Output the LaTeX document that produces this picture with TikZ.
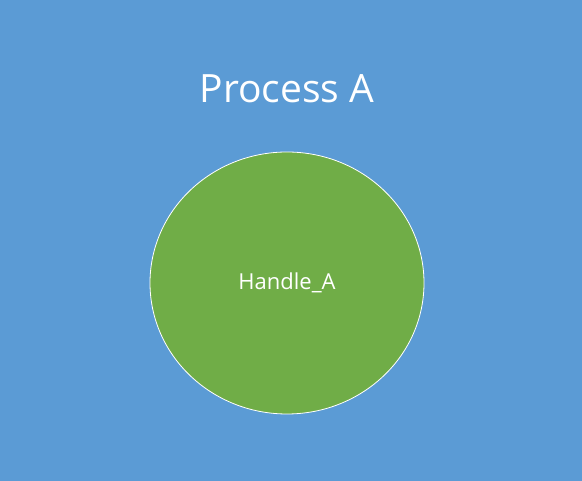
\documentclass[tikz,border=0pt]{standalone}
\usepackage{fontspec}
\setmainfont{Open Sans}
\usetikzlibrary{positioning, shapes.geometric}
\definecolor{procblue}{HTML}{5B9BD5}
\definecolor{handlegreen}{HTML}{70AD47}
\tikzset{
    title/.style={text=white, font=\fontsize{39}{46}\selectfont},
    handle/.style={ellipse, draw=white, line width=0.8pt, fill=handlegreen,
        minimum width=274pt, minimum height=262pt, inner sep=0pt,
        text=white, font=\fontsize{22}{26}\selectfont}
}

\begin{document}
\begin{tikzpicture}[x=1pt,y=1pt]
            \fill[procblue] (0,0) rectangle (582,481);
            \useasboundingbox (0,0) rectangle (582,481);
            \node[title] (proc_a) at (287,392) {Process A};
            \node[handle] (handle_a) at (287,198) {Handle\_A};
        \end{tikzpicture}
\end{document}
